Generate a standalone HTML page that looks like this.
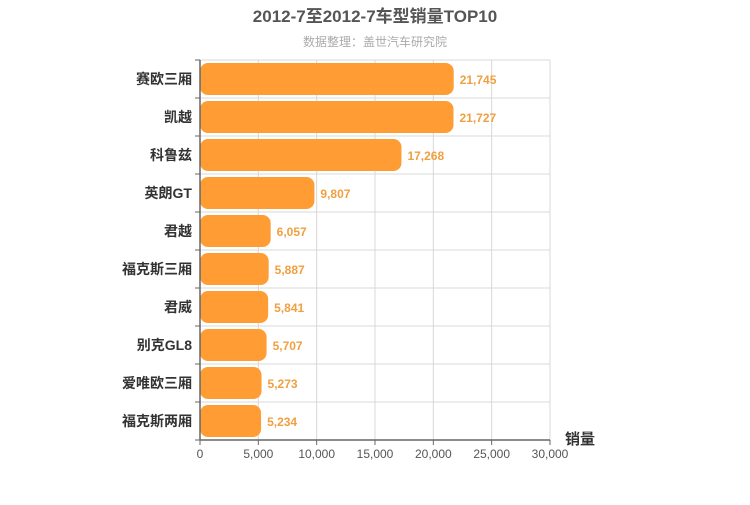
<!DOCTYPE html>
<html><head><meta charset="utf-8"><style>
body{margin:0;background:#fff;}
svg text{font-family:"Liberation Sans","Noto Sans CJK SC",sans-serif;}
</style></head><body>
<svg width="750" height="500">
<text x="375" y="22" text-anchor="middle" font-size="17" font-weight="bold" fill="#555">2012-7至2012-7车型销量TOP10</text>
<text x="375" y="46" text-anchor="middle" font-size="12" fill="#aaa">数据整理：盖世汽车研究院</text>
<g id="grid"></g><g id="bars"></g><g id="axes"></g>
<text x="580" y="444" text-anchor="middle" font-size="15" font-weight="bold" fill="#333">销量</text>
</svg>
<script>
const categories=["赛欧三厢","凯越","科鲁兹","英朗GT","君越","福克斯三厢","君威","别克GL8","爱唯欧三厢","福克斯两厢"];
const values=[21745,21727,17268,9807,6057,5887,5841,5707,5273,5234];
const ticks=[0,5000,10000,15000,20000,25000,30000];
const NS="http://www.w3.org/2000/svg";
const X0=200,X1=550,Y0=60,Y1=440,MAX=30000;
const rowH=(Y1-Y0)/categories.length;
const xs=v=>X0+v/MAX*(X1-X0);
const ys=i=>Y0+i*rowH;
function mk(p,t,a){const e=document.createElementNS(NS,t);for(const k in a)e.setAttribute(k,a[k]);p.appendChild(e);return e;}
const g=document.getElementById('grid'),b=document.getElementById('bars'),ax=document.getElementById('axes');
ticks.forEach(t=>{
 if(t>0){const l=mk(g,'line',{x1:xs(t),x2:xs(t),y1:Y0,y2:Y1,stroke:'#d8d8d8'});
 
 }
 const tx=mk(ax,'text',{x:xs(t),y:Y1+18,'text-anchor':'middle','font-size':12,fill:'#555'});
 tx.textContent=t.toLocaleString('en-US');
 
 
 const tk=mk(ax,'line',{x1:xs(t),x2:xs(t),y1:Y1,y2:Y1+5,stroke:'#666'});
 
 
});
for(let i=0;i<=categories.length;i++){
 const l=mk(g,'line',{x1:X0,x2:X1,y1:ys(i),y2:ys(i),stroke:'#d8d8d8'});
 
 
 const tk=mk(ax,'line',{x1:X0-5,x2:X0,y1:ys(i),y2:ys(i),stroke:'#666'});
 
 
}
categories.forEach((c,i)=>{
 const r=mk(b,'rect',{x:X0,y:ys(i)+3,width:xs(values[i])-X0,height:rowH-6,rx:8,ry:8,fill:'#ff9c34'});
 
 
 const v=mk(b,'text',{x:xs(values[i])+6,y:ys(i)+rowH/2+5,'font-size':12,'font-weight':'bold',fill:'#f0a040'});
 v.textContent=values[i].toLocaleString('en-US');
 
 
 const t=mk(ax,'text',{x:X0-8,y:ys(i)+rowH/2+5,'text-anchor':'end','font-size':14,'font-weight':'bold',fill:'#333'});
 t.textContent=c;
 
 
});
const xl=mk(ax,'line',{x1:X0,x2:X1,y1:Y1,y2:Y1,stroke:'#666','stroke-width':1.5});


const yl=mk(ax,'line',{x1:X0,x2:X0,y1:Y0,y2:Y1,stroke:'#666','stroke-width':1.5});


</script>
</body></html>
